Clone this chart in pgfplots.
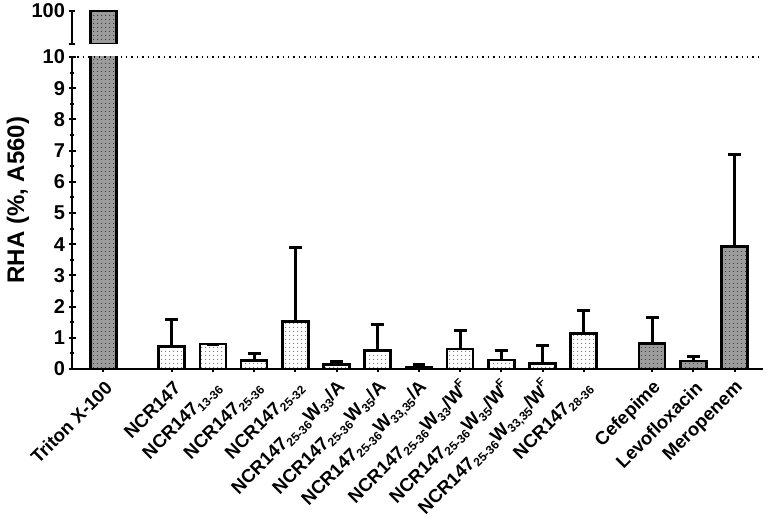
\documentclass[border=0pt]{standalone}
\usepackage{fontspec}
\setmainfont{Liberation Sans}
\usepackage{pgfplots}
\usepackage{pgfplotstable}
\pgfplotsset{compat=1.18}
\usetikzlibrary{patterns.meta}

% small square grid of dots used inside the bars
\tikzdeclarepattern{
  name=bardots,
  type=uncolored,
  bounding box={(0pt,0pt) and (4pt,4pt)},
  tile size={(4pt,4pt)},
  code={\pgfpathcircle{\pgfpoint{2pt}{2pt}}{0.75pt}\pgfusepath{fill}}
}

\definecolor{darkbar}{HTML}{9C9C9C}
\definecolor{darkdot}{HTML}{3C3C3C}
\definecolor{lightdot}{HTML}{707070}

% lowered subscripts and raised superscripts in the peptide names
\newcommand\sub[1]{\raisebox{-0.35ex}{\fontsize{12}{13}\selectfont #1}}
\newcommand\sups[1]{\raisebox{0.9ex}{\fontsize{11.5}{12}\selectfont #1}}

% controls: Triton X-100 and the antibiotics
\pgfplotstableread{
x     y     err
0     100   0
13.32 0.82  0.84
14.32 0.26  0.13
15.32 3.92  2.94
}\controls

% NCR147 peptides
\pgfplotstableread{
x     y     err
1.66  0.72  0.88
2.66  0.80  0.00
3.66  0.27  0.24
4.66  1.52  2.36
5.66  0.15  0.08
6.66  0.60  0.84
7.66  0.07  0.08
8.66  0.64  0.58
9.66  0.29  0.30
10.66 0.18  0.57
11.66 1.14  0.72
}\peptides

\pgfplotsset{
  every error bar/.append style={line width=3pt, black},
  rha/.style={
    scale only axis,
    width=691pt,
    xmin=-0.76, xmax=16.01,
    tick style={line width=2pt, black},
    tick align=outside,
    major tick length=7pt,
    minor tick length=4pt,
    ybar, bar shift=0pt, bar width=0.63,
    /pgf/number format/assume math mode=true,
    ticklabel style={font=\fontsize{20}{22}\selectfont\bfseries},
  },
  nolinearrows/.style={
    axis line style={-, line width=2.4pt},
    every outer x axis line/.append style={-},
    every outer y axis line/.append style={-},
    every inner x axis line/.append style={-},
    every inner y axis line/.append style={-},
  },
  darkbars/.style={draw=black, line width=2.6pt, fill=darkbar,
    postaction={pattern=bardots, pattern color=darkdot}},
  lightbars/.style={draw=black, line width=2.6pt, fill=white,
    postaction={pattern=bardots, pattern color=lightdot}},
  errs/.style={
    error bars/.cd, y dir=plus, y explicit,
    error bar style={line width=3pt, black},
    error mark options={rotate=90, mark size=6.4pt, line width=3pt, black},
  },
}

\begin{document}
\begin{tikzpicture}
\useasboundingbox (0,0) rectangle (767pt,521pt);

% lower segment, 0 to 10
\begin{axis}[
  rha,
  at={(72pt,152pt)}, anchor=south west,
  height=312pt,
  ymin=0, ymax=10,
  ytick={0,1,...,10},
  minor y tick num=1,
  axis x line=bottom, axis y line=left,
  nolinearrows,
  xtick={0,1.66,2.66,3.66,4.66,5.66,6.66,7.66,8.66,9.66,10.66,11.66,13.32,14.32,15.32},
  xticklabels={
    {Triton X-100},
    {NCR147},
    {NCR147\sub{13-36}},
    {NCR147\sub{25-36}},
    {NCR147\sub{25-32}},
    {NCR147\sub{25-36}W\sub{33}/A},
    {NCR147\sub{25-36}W\sub{35}/A},
    {NCR147\sub{25-36}W\sub{33,35}/A},
    {NCR147\sub{25-36}W\sub{33}/W\sups{F}},
    {NCR147\sub{25-36}W\sub{35}/W\sups{F}},
    {NCR147\sub{25-36}W\sub{33,35}/W\sups{F}},
    {NCR147\sub{28-36}},
    {Cefepime},
    {Levofloxacin},
    {Meropenem}},
  xticklabel style={xshift=8pt, yshift=-10pt, rotate=45, anchor=east,
    font=\fontsize{18.5}{21}\selectfont\bfseries},
]
\addplot[darkbars, errs] table[x=x, y=y, y error=err] {\controls};
\addplot[lightbars, errs] table[x=x, y=y, y error=err] {\peptides};
\draw[line width=1.6pt, dash pattern=on 1.4pt off 4pt]
  (rel axis cs:0,1) -- (rel axis cs:1,1);
\end{axis}

% upper segment, 10 to 100
\begin{axis}[
  name=upper,
  rha,
  at={(72pt,477pt)}, anchor=south west,
  height=33pt,
  ymin=10, ymax=100,
  enlarge y limits={upper, abs=1.3pt},
  ytick={10,100}, yticklabels={,100},
  axis lines=left,
  nolinearrows,
  x axis line style={draw=none},
  xtick=\empty,
]
\addplot[darkbars] coordinates {(0,100)};
\end{axis}
\draw[line width=2.4pt] (upper.south west) -- (upper.north west);

\node[rotate=90, font=\fontsize{24}{28}\selectfont\bfseries] at (18pt,321pt) {RHA (\%, A560)};
\end{tikzpicture}
\end{document}
